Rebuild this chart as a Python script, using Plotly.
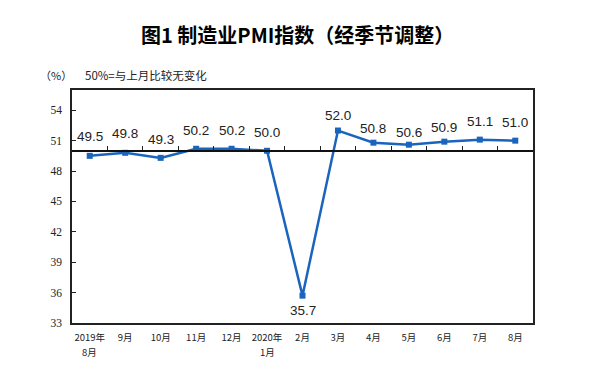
import plotly.graph_objects as go

months = ["8月", "9月", "10月", "11月", "12月", "1月", "2月",
          "3月", "4月", "5月", "6月", "7月", "8月"]
years = ["2019年", "", "", "", "", "2020年", "", "", "", "", "", "", ""]
pmi = [49.5, 49.8, 49.3, 50.2, 50.2, 50.0, 35.7, 52.0, 50.8, 50.6, 50.9, 51.1, 51.0]
y_ticks = [33, 36, 39, 42, 45, 48, 51, 54]
y_range = [33, 56]
baseline = 50

# style: vertical offset (px) of each value label from its point
label_shift = [19, 19, 18, 18, 18, 18, -15, 15, 14, 12, 14, 18, 18]

OFF = 8  # page body margin
W, H = 609 - OFF, 377 - OFF
ML, MR, MT, MB = 72 - OFF, 76, 90 - OFF, 54
ph = H - MT - MB
pw = W - ML - MR

def py(px_from_top):
    return (H - MB - (px_from_top - OFF)) / ph

def pxx(px):
    return ((px - OFF) - ML) / pw

xs = list(range(len(months)))
tick_text = [y if y else m for y, m in zip(years, months)]
color = "#1a64bd"
tick_font = dict(family="Noto Sans CJK SC", size=9.5, color="#222")

fig = go.Figure()
fig.add_trace(go.Scatter(
    x=xs, y=pmi, mode="lines+markers",
    line=dict(color=color, width=2.5),
    marker=dict(symbol="square", size=6, color=color),
    showlegend=False, hoverinfo="skip",
))
# invisible trace for the baseline axis with category-boundary ticks
fig.add_trace(go.Scatter(x=[None], y=[None], xaxis="x2", showlegend=False, hoverinfo="skip"))

annotations = [
    dict(x=x, y=v, xref="x", yref="y", text=f"{v:.1f}", showarrow=False,
         xanchor="center", yanchor="middle", yshift=s,
         font=dict(family="Liberation Sans, Arial", size=13.5, color="#222"))
    for x, v, s in zip(xs, pmi, label_shift)
]
# month line below a year label
annotations += [
    dict(x=x, y=py(352), xref="x", yref="paper", text=m, showarrow=False,
         xanchor="center", yanchor="middle", font=tick_font)
    for x, y, m in zip(xs, years, months) if y
]
annotations += [
    dict(text="图1 制造业PMI指数（经季节调整）", xref="paper", yref="paper",
         x=pxx(297), y=py(35), xanchor="center", yanchor="middle", showarrow=False,
         font=dict(family="Noto Sans CJK SC", size=20, color="#000", weight="bold")),
    dict(text="（%）", xref="paper", yref="paper",
         x=pxx(56), y=py(75), xanchor="center", yanchor="middle", showarrow=False,
         font=dict(family="Noto Sans CJK SC", size=11, color="#222")),
    dict(text="50%=与上月比较无变化", xref="paper", yref="paper",
         x=pxx(83), y=py(75), xanchor="left", yanchor="middle", showarrow=False,
         font=dict(family="Noto Sans CJK SC", size=11.5, color="#222")),
]

fig.update_layout(
    width=W, height=H,
    margin=dict(l=ML, r=MR, t=MT, b=MB),
    paper_bgcolor="white", plot_bgcolor="white",
    xaxis=dict(
        range=[-0.5, len(months) - 0.5],
        tickmode="array", tickvals=xs, ticktext=tick_text,
        showgrid=False, zeroline=False,
        showline=True, linecolor="#222", linewidth=1.5, mirror=True,
        ticks="", ticklabelstandoff=5,
        tickfont=tick_font,
    ),
    xaxis2=dict(
        range=[-0.5, len(months) - 0.5], overlaying="x", anchor="free",
        position=(baseline - y_range[0]) / (y_range[1] - y_range[0]),
        tickmode="array", tickvals=[i + 0.5 for i in xs[:-1]],
        ticks="inside", ticklen=4, tickwidth=1.2, tickcolor="#222",
        showticklabels=False, showgrid=False, zeroline=False,
        showline=True, linecolor="#111", linewidth=1.5,
    ),
    yaxis=dict(
        range=y_range, tickmode="array", tickvals=y_ticks,
        showgrid=False, zeroline=False,
        showline=True, linecolor="#222", linewidth=1.5, mirror=True,
        ticks="inside", ticklen=4, tickwidth=1.2, tickcolor="#222",
        ticklabelstandoff=6,
        tickfont=dict(family="Liberation Serif, Times New Roman", size=11.5, color="#222"),
    ),
    annotations=annotations,
)

fig.write_html("out.html")
